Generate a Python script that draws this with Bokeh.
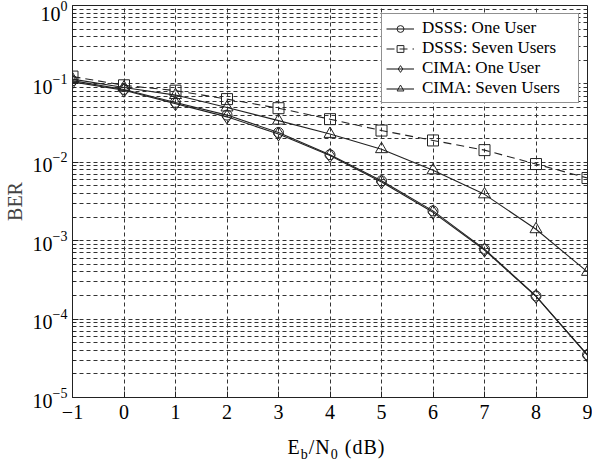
from bokeh.plotting import figure
from bokeh.layouts import column
from bokeh.models import FixedTicker, Legend, LegendItem, Div
from bokeh.embed import file_html
from bokeh.resources import INLINE

# ---- data ----
ebn0 = [-1, 0, 1, 2, 3, 4, 5, 6, 7, 8, 9]
dsss_one = [0.110, 0.085, 0.058, 0.040, 0.024, 0.0125, 0.0058, 0.0024, 0.00078, 0.000197, 0.0000350]
dsss_seven = [0.124, 0.096, 0.082, 0.064, 0.049, 0.0355, 0.0254, 0.019, 0.0143, 0.0095, 0.0063]
cima_one = [0.106, 0.083, 0.056, 0.038, 0.023, 0.0122, 0.0056, 0.0023, 0.00076, 0.000195, 0.0000345]
cima_seven = [0.115, 0.090, 0.072, 0.050, 0.034, 0.023, 0.0147, 0.0079, 0.0039, 0.00140, 0.00040]

x_ticks = [-1, 0, 1, 2, 3, 4, 5, 6, 7, 8, 9]
y_ticks = [1e-5, 1e-4, 1e-3, 1e-2, 1e-1, 1]
y_minor = [k * d for d in [1e-5, 1e-4, 1e-3, 1e-2, 1e-1] for k in range(2, 10)]

FONT = "Liberation Serif"
INK = "#222222"

fig = figure(width=590, height=433, output_backend="svg", toolbar_location=None,
             x_range=(-1, 9), y_range=(1e-5, 1), y_axis_type="log",
             frame_width=515, frame_height=392,
             min_border_left=70, min_border_right=5, min_border_top=5, min_border_bottom=36)
fig.outline_line_color = INK
fig.outline_line_width = 1
fig.background_fill_color = "white"
fig.border_fill_color = "white"

# axes
xa = fig.xaxis[0]
xa.ticker = FixedTicker(ticks=x_ticks)
xa.major_label_overrides = {-1: "\u22121"}
ya = fig.yaxis[0]
ya.ticker = FixedTicker(ticks=y_ticks, minor_ticks=y_minor)
ya.axis_label = "BER"
ya.axis_label_text_font = FONT
ya.axis_label_text_font_size = "20px"
ya.axis_label_text_font_style = "normal"
ya.axis_label_standoff = 4
for ax in (xa, ya):
    ax.major_label_text_font = FONT
    ax.major_label_text_font_size = "20px"
    ax.major_label_text_color = "black"
    ax.axis_line_color = INK
    ax.major_tick_in = 6
    ax.major_tick_out = 0
    ax.minor_tick_in = 3
    ax.minor_tick_out = 0
    ax.major_tick_line_color = INK
    ax.minor_tick_line_color = INK
xa.major_label_standoff = 7
ya.major_label_standoff = 5

# grid
for g in (fig.xgrid[0], fig.ygrid[0]):
    g.grid_line_color = "#333333"
    g.grid_line_dash = "4 3"
    g.grid_line_width = 1
fig.xgrid[0].ticker = FixedTicker(ticks=x_ticks)
fig.ygrid[0].ticker = FixedTicker(ticks=y_ticks, minor_ticks=y_minor)
fig.ygrid[0].minor_grid_line_color = "#333333"
fig.ygrid[0].minor_grid_line_dash = "4 3"

# series
items = []
specs = [
    ("DSSS: One User", dsss_one, "circle", 10, "solid"),
    ("DSSS: Seven Users", dsss_seven, "square", 11, "8 5"),
    ("CIMA: One User", cima_one, "diamond", 14, "solid"),
    ("CIMA: Seven Users", cima_seven, "triangle", 12, "solid"),
]
for name, ys, mk, sz, dash in specs:
    r1 = fig.line(ebn0, ys, line_color=INK, line_width=1.1, line_dash=dash)
    r2 = fig.scatter(ebn0, ys, marker=mk, size=sz, line_color=INK, line_width=1, fill_alpha=0)
    items.append(LegendItem(label=name, renderers=[r1, r2]))

legend = Legend(items=items, location="top_right")
legend.label_text_font = FONT
legend.label_text_font_size = "17px"
legend.label_text_color = "black"
legend.label_height = 17
legend.glyph_height = 17
legend.glyph_width = 28
legend.label_width = 152
legend.label_standoff = 8
legend.spacing = 0
legend.padding = 4
legend.margin = 8
legend.border_line_color = INK
legend.border_line_width = 1
legend.background_fill_alpha = 1
fig.add_layout(legend)

# x axis label: E_b/N_0 (dB) as real text with subscripts
xlabel = Div(
    text=('<div style="width:515px;margin-left:74px;text-align:center;letter-spacing:1px;'
          'font-family:\'Liberation Serif\',serif;font-size:20px;line-height:18px;color:black;">'
          'E<sub style="font-size:14px;line-height:0;">b</sub>/N'
          '<sub style="font-size:14px;line-height:0;">0</sub> (dB)</div>'),
    width=590, height=25)

p = column(fig, xlabel, spacing=0)

open("out.html", "w").write(file_html(p, INLINE))
